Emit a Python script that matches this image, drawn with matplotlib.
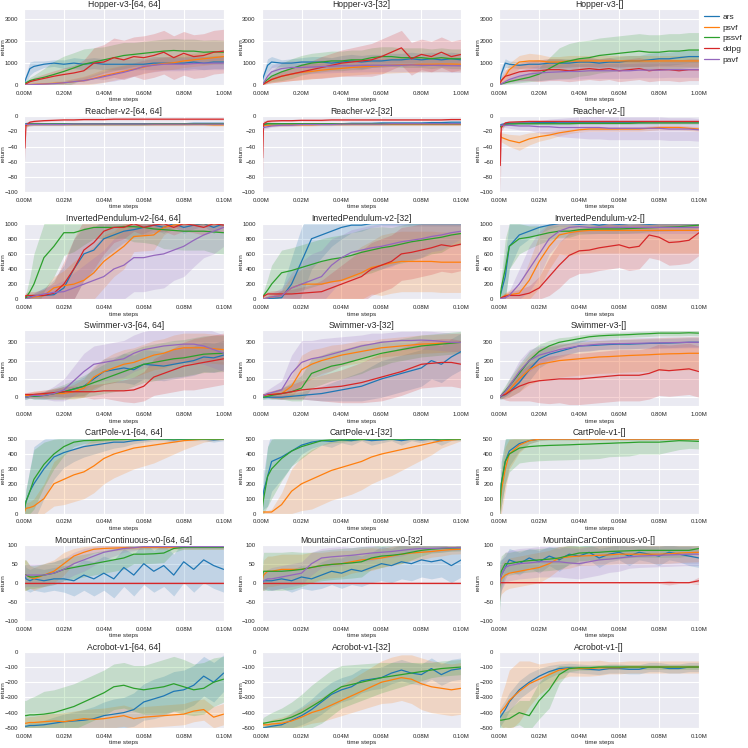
import numpy as np
import matplotlib
matplotlib.use("Agg")
import matplotlib.pyplot as plt
import seaborn as sns
from matplotlib.ticker import FuncFormatter

sns.set_style("darkgrid")
plt.rcParams['font.family'] = ['Liberation Sans', 'DejaVu Sans']

ALGOS = ["ars", "psvf", "pssvf", "ddpg", "pavf"]
COLORS = {"ars": "#1f77b4", "psvf": "#ff7f0e", "pssvf": "#2ca02c",
          "ddpg": "#d62728", "pavf": "#9467bd"}
ARCHS = ["[64, 64]", "[32]", "[]"]

# sample positions as a fraction of the training budget
FRAC = [0, 0.005, 0.01, 0.03, 0.05, 0.1, 0.15, 0.2, 0.25, 0.3, 0.35, 0.4,
        0.45, 0.5, 0.55, 0.6, 0.65, 0.7, 0.75, 0.8, 0.85, 0.9, 0.95, 1.0]

# ---------------- Hopper-v3 ----------------
hop64_ars = [50, 150, 300, 750, 850, 950, 1000, 950, 1000, 950, 1000, 950, 950, 950, 950, 950, 1000, 1000, 1000, 1000, 1050, 1000, 1050, 1050]
hop64_ars_sd = [50, 100, 200, 300, 250, 150, 150, 200, 250, 250, 250, 250, 250, 250, 250, 250, 300, 300, 300, 300, 300, 300, 300, 300]
hop64_psvf = [0, 0, 0, 20, 30, 50, 80, 100, 150, 200, 300, 420, 520, 620, 720, 820, 920, 980, 1020, 1100, 1150, 1200, 1250, 1300]
hop64_psvf_sd = [0, 5, 10, 20, 30, 60, 80, 100, 150, 200, 250, 300, 300, 300, 300, 300, 300, 300, 300, 300, 300, 300, 300, 300]
hop64_pssvf = [80, 90, 100, 200, 250, 350, 480, 620, 780, 950, 1050, 1150, 1250, 1350, 1400, 1450, 1500, 1550, 1580, 1550, 1550, 1500, 1520, 1500]
hop64_pssvf_sd = [50, 60, 80, 150, 200, 400, 600, 700, 700, 700, 650, 600, 600, 600, 550, 550, 550, 550, 550, 550, 550, 550, 550, 550]
hop64_ddpg = [0, 20, 50, 150, 200, 300, 400, 480, 550, 650, 1000, 1050, 1250, 1150, 1300, 1250, 1350, 1500, 1250, 1450, 1300, 1350, 1500, 1550]
hop64_ddpg_sd = [0, 20, 50, 100, 150, 200, 250, 300, 350, 500, 700, 800, 900, 900, 900, 1000, 1000, 1000, 1000, 1000, 1000, 1000, 1000, 1000]
hop64_pavf = [0, 0, 0, 10, 20, 40, 60, 100, 150, 200, 280, 380, 480, 580, 700, 850, 900, 950, 950, 950, 980, 1000, 1000, 1000]
hop64_pavf_sd = [0, 5, 5, 10, 20, 40, 60, 100, 120, 150, 200, 250, 300, 300, 300, 300, 300, 300, 300, 300, 300, 300, 300, 300]

hop32_ars = [100, 250, 400, 900, 1050, 1000, 1000, 1050, 1050, 1050, 1000, 1050, 1100, 1050, 1100, 1100, 1150, 1150, 1200, 1150, 1200, 1150, 1200, 1150]
hop32_ars_sd = [50, 100, 200, 300, 250, 150, 200, 200, 250, 250, 250, 300, 300, 300, 300, 300, 300, 300, 300, 300, 300, 300, 300, 300]
hop32_psvf = [0, 20, 50, 150, 250, 400, 500, 580, 620, 680, 720, 760, 800, 830, 860, 880, 900, 920, 930, 950, 950, 960, 960, 950]
hop32_psvf_sd = [0, 10, 30, 80, 150, 250, 300, 350, 350, 350, 350, 350, 350, 350, 350, 350, 350, 350, 350, 350, 350, 350, 350, 350]
hop32_pssvf = [0, 50, 100, 250, 400, 600, 750, 900, 1000, 1050, 1100, 1100, 1150, 1150, 1250, 1300, 1300, 1250, 1250, 1250, 1200, 1250, 1200, 1200]
hop32_pssvf_sd = [0, 40, 80, 150, 250, 400, 450, 450, 450, 450, 450, 450, 450, 450, 450, 450, 450, 450, 450, 450, 450, 450, 450, 450]
hop32_ddpg = [0, 20, 50, 150, 250, 400, 500, 600, 700, 800, 900, 1000, 1050, 1100, 1150, 1300, 1500, 1700, 1200, 1400, 1300, 1500, 1300, 1400]
hop32_ddpg_sd = [0, 10, 30, 80, 150, 250, 300, 350, 400, 500, 550, 600, 650, 700, 750, 800, 800, 800, 750, 700, 700, 700, 700, 700]
hop32_pavf = [0, 50, 100, 400, 600, 750, 800, 800, 820, 840, 860, 880, 880, 900, 900, 900, 900, 900, 920, 900, 900, 900, 880, 880]
hop32_pavf_sd = [0, 40, 80, 200, 300, 300, 300, 300, 300, 300, 300, 300, 300, 300, 300, 300, 300, 300, 300, 300, 300, 300, 300, 300]

hop0_ars = [0, 250, 500, 1000, 950, 900, 950, 950, 1000, 1000, 1000, 1050, 1050, 1000, 1050, 1050, 1100, 1100, 1150, 1200, 1200, 1250, 1300, 1300]
hop0_ars_sd = [0, 150, 300, 200, 150, 150, 150, 200, 200, 200, 200, 200, 200, 200, 200, 250, 250, 250, 300, 300, 300, 300, 300, 300]
hop0_psvf = [0, 100, 200, 400, 700, 1050, 1100, 1100, 1050, 1050, 1100, 1100, 1100, 1100, 1100, 1100, 1100, 1100, 1100, 1100, 1100, 1100, 1100, 1100]
hop0_psvf_sd = [0, 50, 100, 200, 300, 300, 350, 300, 250, 250, 250, 250, 250, 250, 250, 250, 250, 250, 250, 250, 250, 250, 250, 250]
hop0_pssvf = [0, 20, 50, 100, 150, 250, 350, 500, 750, 1000, 1100, 1200, 1250, 1350, 1400, 1450, 1500, 1550, 1500, 1500, 1550, 1550, 1600, 1600]
hop0_pssvf_sd = [0, 20, 30, 60, 100, 150, 200, 300, 500, 700, 800, 800, 800, 800, 800, 800, 800, 800, 800, 800, 800, 800, 800, 800]
hop0_ddpg = [0, 100, 200, 400, 450, 600, 650, 650, 700, 700, 650, 700, 750, 700, 750, 650, 700, 750, 650, 700, 700, 650, 700, 700]
hop0_ddpg_sd = [0, 80, 150, 300, 300, 400, 450, 500, 500, 500, 500, 500, 500, 500, 500, 500, 500, 500, 500, 500, 500, 500, 500, 500]
hop0_pavf = [0, 20, 50, 150, 250, 400, 500, 550, 580, 600, 620, 620, 650, 650, 650, 650, 650, 680, 680, 680, 700, 700, 700, 700]
hop0_pavf_sd = [0, 20, 50, 100, 150, 250, 300, 350, 350, 350, 350, 350, 350, 350, 350, 350, 350, 350, 350, 350, 350, 350, 350, 350]

# ---------------- Reacher-v2 ----------------
rea_flat_sd = [2, 2, 2, 2, 1.5, 1.5, 1.5, 1.5, 1.5, 1.5, 1.5, 1.5, 1.5, 1.5, 1.5, 1.5, 1.5, 1.5, 1.5, 1.5, 1.5, 1.5, 1.5, 1.5]
rea64_ars = [-11, -11, -10, -10, -10, -10, -10, -10, -10, -10, -10, -10, -10, -10, -10, -10, -10, -10, -10, -10, -9.5, -9.5, -9.5, -9.5]
rea64_psvf = [-12, -12, -12, -11, -11, -11, -11, -11, -11, -11, -11, -11, -11, -11, -11, -11, -11, -11, -11, -11, -11, -11, -11.5, -11.5]
rea64_pssvf = [-11, -11, -11, -10.5, -10.5, -10.5, -10.5, -10.5, -10.5, -10.5, -10.5, -10.5, -10.5, -10.5, -10.5, -10.5, -10, -10, -10, -10, -10, -10, -10, -10]
rea64_ddpg = [-10, -42, -12, -8, -7, -6, -5.5, -5, -5, -4.5, -4.5, -4.5, -4, -4, -4, -4, -4, -4, -4, -4, -4, -4, -4, -4]
rea64_ddpg_sd = [3, 17, 4, 2, 1.5, 1, 1, 1, 1, 1, 1, 1, 1, 1, 1, 1, 1, 1, 1, 1, 1, 1, 1, 1]
rea64_pavf = [-11, -11, -11, -11, -11, -11, -11, -11, -10.5, -10.5, -10.5, -10.5, -10.5, -10.5, -10.5, -10.5, -10.5, -10.5, -10.5, -10.5, -10.5, -10.5, -10.5, -10.5]

rea32_ars = [-12, -12, -11, -10, -10, -10, -10, -10, -10, -10, -10, -10, -9.5, -9.5, -9.5, -9, -9, -9, -9, -9, -8.5, -8.5, -8, -8]
rea32_psvf = [-13, -13, -12, -12, -12, -12, -11.5, -11.5, -11.5, -11, -11, -11, -11, -11, -11, -11, -11, -11, -11, -11, -11, -11, -11, -11]
rea32_pssvf = [-12, -12, -11, -10, -10, -10, -10, -10, -10, -10, -10, -10, -10, -10, -10, -10, -10, -10, -10, -10, -10, -10, -10, -10]
rea32_ddpg = [-10, -55, -10, -7, -6.5, -6, -6, -5.5, -5.5, -5.5, -5, -5, -5, -5, -5, -5, -5, -5, -5, -5, -5, -5, -4.5, -4.5]
rea32_ddpg_sd = [3, 27, 4, 2, 1.5, 1, 1, 1, 1, 1, 1, 1, 1, 1, 1, 1, 1, 1, 1, 1, 1, 1, 1, 1]
rea32_pavf = [-15, -15, -15, -14, -13, -12, -12, -11, -11, -11, -11, -10.5, -10.5, -10.5, -10.5, -10.5, -10, -10, -10, -10, -10, -10, -10, -10]

rea0_ars = [-12, -12, -11, -10, -9.5, -9, -9, -8.5, -8.5, -8, -8, -8, -8, -8, -8, -8, -8, -8, -7.5, -7.5, -7.5, -7.5, -7.5, -7.5]
rea0_psvf = [-20, -25, -28, -30, -32, -35, -30, -27, -25, -22, -20, -18, -17, -17, -17, -17, -17, -17, -16, -15, -15, -15, -16, -17]
rea0_psvf_sd = [5, 5, 6, 7, 8, 10, 8, 6, 5, 4, 3, 3, 3, 3, 3, 3, 3, 3, 3, 3, 3, 3, 3, 3]
rea0_pssvf = [-15, -14, -13, -11, -10.5, -10, -10, -10, -10, -10, -10, -9.5, -9.5, -9.5, -9.5, -9.5, -9.5, -9, -9, -9, -9, -9, -9, -9]
rea0_ddpg = [-10, -65, -15, -9, -8, -7.5, -7, -7, -7, -7, -7, -7, -7, -7, -7, -7, -7, -7, -7, -7, -7, -7, -7, -7]
rea0_ddpg_sd = [3, 35, 5, 2, 1.5, 1.5, 1.5, 1.5, 1.5, 1.5, 1.5, 1.5, 1.5, 1.5, 1.5, 1.5, 1.5, 1.5, 1.5, 1.5, 1.5, 1.5, 1.5, 1.5]
rea0_pavf = [-12, -12, -12, -12, -12, -13, -13, -14, -14, -15, -15, -15, -15, -15, -16, -16, -16, -16, -16, -16, -17, -17, -17, -18]
rea0_pavf_sd = [2, 2, 2, 3, 4, 5, 6, 8, 10, 12, 13, 14, 15, 15, 15, 15, 15, 15, 15, 15, 15, 15, 15, 15]

# ---------------- InvertedPendulum-v2 ----------------
inv64_ars = [0, 10, 20, 30, 40, 50, 60, 150, 400, 600, 650, 800, 850, 900, 920, 950, 980, 950, 1000, 950, 980, 1000, 950, 1000]
inv64_ars_sd = [0, 10, 20, 30, 40, 100, 200, 300, 400, 350, 300, 250, 200, 150, 100, 80, 50, 80, 30, 80, 50, 30, 80, 30]
inv64_psvf = [0, 5, 10, 20, 30, 50, 150, 180, 200, 250, 350, 500, 600, 700, 830, 840, 850, 950, 980, 1000, 1000, 1000, 1000, 1000]
inv64_psvf_sd = [0, 5, 10, 20, 30, 80, 150, 200, 300, 350, 350, 350, 300, 300, 200, 200, 200, 100, 50, 30, 30, 30, 30, 30]
inv64_pssvf = [0, 5, 20, 100, 200, 550, 700, 880, 880, 920, 950, 950, 950, 960, 960, 950, 930, 920, 910, 900, 900, 900, 890, 880]
inv64_pssvf_sd = [0, 20, 50, 200, 400, 450, 400, 300, 250, 200, 150, 150, 150, 150, 200, 200, 200, 250, 250, 250, 250, 250, 280, 280]
inv64_ddpg = [0, 30, 50, 50, 50, 50, 80, 200, 400, 650, 750, 900, 950, 950, 1000, 950, 980, 1000, 950, 1000, 980, 950, 1000, 980]
inv64_ddpg_sd = [0, 30, 40, 50, 50, 80, 150, 300, 400, 400, 350, 300, 200, 150, 100, 100, 100, 100, 100, 100, 100, 100, 100, 100]
inv64_pavf = [0, 0, 5, 20, 40, 70, 90, 100, 150, 200, 250, 300, 400, 450, 550, 550, 580, 600, 650, 700, 780, 850, 900, 950]
inv64_pavf_sd = [0, 5, 10, 20, 40, 80, 100, 150, 200, 250, 300, 350, 400, 450, 450, 450, 450, 450, 400, 400, 350, 300, 300, 250]

inv32_ars = [0, 0, 5, 10, 10, 20, 200, 500, 800, 850, 900, 950, 980, 980, 1000, 1000, 1000, 1000, 1000, 1000, 1000, 1000, 1000, 1000]
inv32_ars_sd = [0, 5, 10, 20, 30, 100, 350, 450, 400, 300, 200, 150, 100, 80, 50, 30, 30, 30, 30, 30, 30, 30, 30, 30]
inv32_psvf = [0, 0, 5, 20, 30, 50, 150, 200, 200, 200, 230, 250, 300, 350, 420, 450, 480, 500, 500, 500, 500, 490, 490, 490]
inv32_psvf_sd = [0, 5, 10, 20, 30, 60, 150, 200, 250, 300, 300, 300, 300, 350, 350, 400, 400, 400, 400, 400, 400, 400, 400, 400]
inv32_pssvf = [0, 20, 50, 120, 200, 350, 380, 420, 460, 500, 530, 550, 580, 620, 650, 680, 700, 730, 760, 780, 800, 820, 850, 870]
inv32_pssvf_sd = [0, 30, 60, 150, 250, 300, 300, 300, 300, 300, 300, 300, 300, 300, 300, 280, 250, 250, 250, 230, 200, 200, 150, 150]
inv32_ddpg = [0, 20, 40, 70, 70, 70, 70, 80, 90, 100, 150, 200, 250, 300, 400, 450, 500, 600, 620, 650, 680, 720, 700, 730]
inv32_ddpg_sd = [0, 10, 20, 30, 40, 50, 60, 80, 100, 150, 200, 250, 300, 350, 350, 350, 350, 350, 350, 350, 350, 350, 350, 350]
inv32_pavf = [0, 0, 5, 20, 30, 50, 150, 200, 250, 300, 450, 550, 620, 650, 680, 700, 730, 760, 780, 800, 830, 850, 880, 900]
inv32_pavf_sd = [0, 5, 10, 30, 50, 100, 200, 300, 350, 350, 350, 300, 300, 300, 300, 300, 300, 250, 250, 250, 200, 200, 150, 100]

inv0_ars = [0, 50, 100, 300, 700, 850, 900, 950, 980, 1000, 1000, 990, 1000, 980, 1000, 990, 1000, 1000, 990, 1000, 1000, 1000, 1000, 1000]
inv0_ars_sd = [0, 50, 100, 300, 300, 150, 100, 80, 50, 30, 30, 30, 30, 30, 30, 30, 30, 30, 30, 30, 30, 30, 30, 30]
inv0_psvf = [0, 5, 20, 50, 60, 80, 250, 500, 700, 850, 880, 900, 910, 910, 910, 910, 910, 910, 910, 910, 910, 910, 910, 910]
inv0_psvf_sd = [0, 5, 20, 40, 60, 100, 250, 350, 300, 250, 300, 300, 300, 300, 300, 300, 300, 300, 300, 300, 300, 300, 300, 300]
inv0_pssvf = [0, 50, 150, 400, 700, 800, 820, 850, 880, 900, 900, 920, 925, 930, 930, 930, 935, 940, 945, 950, 955, 960, 970, 980]
inv0_pssvf_sd = [0, 50, 150, 400, 300, 200, 150, 120, 100, 80, 80, 60, 60, 60, 60, 60, 60, 60, 50, 50, 50, 50, 50, 40]
inv0_ddpg = [0, 5, 20, 40, 50, 50, 80, 150, 300, 450, 580, 640, 650, 680, 700, 720, 680, 700, 850, 820, 750, 760, 780, 880]
inv0_ddpg_sd = [0, 5, 20, 40, 50, 80, 100, 150, 250, 300, 300, 300, 300, 300, 300, 300, 300, 300, 300, 300, 300, 300, 300, 300]
inv0_pavf = [0, 5, 10, 20, 50, 200, 400, 600, 800, 900, 950, 960, 950, 950, 950, 950, 950, 950, 950, 950, 950, 950, 950, 950]
inv0_pavf_sd = [0, 5, 10, 30, 60, 200, 300, 300, 200, 150, 100, 80, 80, 80, 80, 80, 80, 80, 80, 80, 80, 80, 80, 80]

# ---------------- Swimmer-v3 ----------------
swi64_ars = [0, 0, 0, 5, 5, 10, 20, 30, 45, 60, 100, 140, 150, 160, 150, 180, 175, 170, 180, 190, 200, 220, 215, 230]
swi64_ars_sd = [10, 10, 10, 10, 15, 20, 20, 30, 40, 50, 60, 70, 70, 80, 80, 80, 80, 80, 80, 80, 80, 80, 80, 80]
swi64_psvf = [10, 10, 10, 10, 15, 15, 20, 20, 30, 50, 110, 140, 160, 180, 190, 210, 230, 240, 260, 270, 270, 270, 265, 260]
swi64_psvf_sd = [10, 10, 10, 15, 20, 20, 30, 30, 40, 50, 60, 70, 80, 80, 80, 80, 80, 80, 80, 80, 80, 80, 80, 80]
swi64_pssvf = [0, 0, 0, 5, 5, 10, 20, 30, 45, 60, 80, 100, 120, 140, 160, 180, 190, 200, 210, 215, 225, 235, 238, 240]
swi64_pssvf_sd = [10, 10, 10, 10, 15, 20, 30, 40, 50, 60, 70, 80, 90, 100, 100, 100, 100, 100, 100, 100, 100, 100, 100, 100]
swi64_ddpg = [15, 15, 15, 15, 15, 20, 25, 30, 30, 30, 30, 35, 35, 35, 40, 60, 110, 130, 150, 170, 180, 190, 200, 210]
swi64_ddpg_sd = [10, 10, 10, 15, 15, 20, 20, 30, 30, 30, 40, 40, 50, 60, 70, 80, 100, 110, 120, 130, 140, 140, 140, 140]
swi64_pavf = [0, 0, 0, 5, 10, 10, 20, 40, 90, 140, 180, 190, 200, 210, 240, 260, 270, 280, 285, 290, 290, 280, 260, 240]
swi64_pavf_sd = [10, 10, 10, 10, 15, 20, 40, 60, 80, 100, 100, 100, 100, 100, 100, 100, 100, 100, 100, 100, 100, 100, 100, 100]

swi32_ars = [0, 0, 0, 0, 0, 0, 5, 10, 15, 20, 30, 40, 50, 60, 80, 100, 115, 130, 145, 160, 200, 180, 220, 250]
swi32_ars_sd = [10, 10, 10, 10, 10, 10, 15, 20, 30, 40, 50, 60, 70, 80, 90, 100, 100, 100, 100, 100, 100, 100, 100, 100]
swi32_psvf = [10, 10, 10, 15, 15, 20, 60, 150, 180, 200, 215, 230, 240, 250, 260, 270, 275, 280, 285, 290, 292, 295, 298, 300]
swi32_psvf_sd = [10, 10, 10, 15, 20, 30, 60, 80, 80, 70, 70, 60, 60, 60, 50, 50, 50, 50, 50, 50, 50, 50, 50, 50]
swi32_pssvf = [0, 0, 0, 5, 10, 20, 30, 50, 130, 150, 170, 180, 195, 210, 225, 240, 250, 260, 270, 280, 285, 290, 295, 300]
swi32_pssvf_sd = [10, 10, 10, 10, 20, 30, 50, 70, 80, 80, 80, 80, 80, 80, 70, 70, 60, 60, 60, 60, 60, 60, 60, 60]
swi32_ddpg = [10, 10, 10, 15, 15, 20, 30, 40, 45, 50, 55, 60, 70, 80, 95, 110, 125, 140, 160, 180, 185, 190, 190, 180]
swi32_ddpg_sd = [10, 10, 10, 15, 20, 30, 40, 50, 60, 70, 80, 90, 100, 110, 120, 130, 130, 130, 130, 130, 130, 130, 130, 130]
swi32_pavf = [10, 10, 10, 20, 25, 40, 130, 190, 210, 220, 235, 250, 265, 280, 290, 300, 305, 310, 310, 312, 310, 305, 300, 300]
swi32_pavf_sd = [10, 10, 15, 20, 30, 50, 100, 120, 100, 100, 90, 80, 70, 60, 60, 50, 50, 50, 50, 50, 50, 50, 50, 50]

swi0_ars = [0, 0, 5, 15, 30, 80, 150, 210, 235, 250, 265, 280, 282, 285, 288, 290, 290, 292, 294, 295, 296, 298, 300, 300]
swi0_ars_sd = [10, 10, 15, 20, 30, 50, 60, 50, 40, 35, 30, 30, 30, 25, 25, 25, 25, 25, 25, 25, 25, 25, 25, 25]
swi0_psvf = [0, 5, 10, 20, 40, 100, 150, 180, 190, 200, 205, 210, 215, 220, 222, 225, 228, 230, 232, 235, 237, 238, 240, 240]
swi0_psvf_sd = [10, 10, 15, 25, 40, 70, 80, 90, 90, 90, 90, 90, 90, 90, 90, 90, 90, 90, 90, 90, 90, 90, 90, 90]
swi0_pssvf = [0, 5, 10, 35, 60, 130, 200, 250, 280, 300, 310, 320, 330, 335, 338, 340, 342, 345, 347, 350, 350, 350, 352, 350]
swi0_pssvf_sd = [10, 10, 20, 30, 40, 50, 50, 40, 30, 25, 20, 20, 15, 15, 15, 15, 15, 15, 15, 15, 15, 15, 15, 15]
swi0_ddpg = [0, 5, 10, 15, 30, 60, 80, 90, 95, 100, 100, 100, 105, 110, 115, 120, 120, 120, 130, 150, 145, 150, 155, 140]
swi0_ddpg_sd = [10, 10, 15, 30, 50, 80, 100, 120, 130, 130, 140, 140, 140, 140, 140, 140, 140, 140, 140, 140, 140, 140, 140, 140]
swi0_pavf = [0, 5, 10, 30, 60, 140, 200, 230, 245, 260, 270, 280, 285, 290, 292, 293, 294, 295, 296, 297, 298, 299, 300, 300]
swi0_pavf_sd = [10, 10, 15, 25, 40, 60, 60, 50, 40, 35, 30, 30, 30, 30, 30, 30, 30, 30, 30, 30, 30, 30, 30, 30]

# ---------------- CartPole-v1 ----------------
car64_ars = [0, 40, 80, 150, 200, 300, 380, 410, 430, 450, 460, 470, 480, 480, 490, 495, 500, 500, 495, 500, 500, 500, 495, 500]
car64_ars_sd = [0, 40, 80, 150, 250, 200, 150, 100, 80, 70, 60, 50, 40, 30, 20, 15, 10, 10, 15, 10, 10, 10, 15, 10]
car64_psvf = [0, 20, 35, 40, 50, 100, 200, 230, 260, 280, 320, 370, 400, 420, 440, 450, 460, 470, 480, 490, 495, 500, 500, 500]
car64_psvf_sd = [0, 20, 35, 40, 50, 100, 150, 170, 180, 180, 180, 170, 160, 150, 140, 130, 120, 100, 80, 60, 40, 20, 10, 5]
car64_pssvf = [0, 50, 80, 150, 230, 330, 400, 450, 480, 490, 492, 495, 497, 498, 500, 500, 500, 500, 500, 500, 500, 500, 500, 500]
car64_pssvf_sd = [0, 50, 80, 150, 200, 150, 100, 60, 30, 20, 15, 10, 5, 5, 2, 2, 2, 2, 2, 2, 2, 2, 2, 2]

car32_ars = [0, 100, 150, 250, 350, 380, 420, 460, 480, 490, 485, 495, 490, 500, 490, 495, 500, 490, 500, 495, 500, 490, 500, 500]
car32_ars_sd = [0, 80, 120, 200, 200, 150, 100, 60, 40, 30, 40, 20, 30, 10, 30, 20, 10, 30, 10, 20, 10, 30, 10, 10]
car32_psvf = [0, 10, 10, 10, 10, 60, 150, 200, 230, 260, 290, 310, 330, 350, 380, 400, 415, 430, 445, 460, 475, 490, 495, 500]
car32_psvf_sd = [0, 10, 10, 10, 20, 80, 150, 180, 200, 200, 200, 200, 200, 190, 180, 170, 160, 140, 120, 100, 80, 50, 30, 10]
car32_pssvf = [0, 50, 100, 250, 300, 370, 420, 450, 470, 490, 495, 495, 497, 498, 500, 500, 500, 500, 500, 500, 500, 500, 500, 500]
car32_pssvf_sd = [0, 50, 100, 200, 200, 150, 100, 80, 50, 30, 20, 15, 10, 5, 5, 5, 5, 5, 5, 5, 5, 5, 5, 5]

car0_ars = [0, 100, 200, 350, 420, 470, 490, 500, 500, 500, 500, 500, 500, 500, 500, 500, 500, 500, 500, 500, 500, 500, 500, 500]
car0_ars_sd = [0, 100, 150, 150, 100, 50, 20, 10, 5, 5, 5, 5, 5, 5, 5, 5, 5, 5, 5, 5, 5, 5, 5, 5]
car0_psvf = [0, 80, 150, 300, 400, 460, 490, 500, 500, 500, 500, 500, 500, 500, 500, 500, 500, 500, 500, 500, 500, 500, 500, 500]
car0_psvf_sd = [0, 80, 150, 150, 100, 50, 20, 10, 5, 5, 5, 5, 5, 5, 5, 5, 5, 5, 5, 5, 5, 5, 5, 5]
car0_pssvf = [0, 100, 200, 350, 400, 440, 450, 455, 458, 460, 462, 465, 467, 470, 472, 475, 477, 480, 480, 480, 485, 490, 488, 485]
car0_pssvf_sd = [0, 100, 150, 150, 120, 100, 100, 100, 100, 100, 100, 100, 100, 100, 90, 90, 90, 80, 80, 80, 70, 60, 50, 50]

# ---------------- MountainCarContinuous-v0 ----------------
mc_ddpg_zero = [0, 0, 0, 0, 0, 0, 0, 0, 0, 0, 0, 0, 0, 0, 0, 0, 0, 0, 0, 0, 0, 0, 0, 0]
mc_ddpg_zero_sd = [2, 2, 2, 2, 2, 2, 2, 2, 2, 2, 2, 2, 2, 2, 2, 2, 2, 2, 2, 2, 2, 2, 2, 2]
mc64_ars = [10, 20, 10, 5, 10, 5, 10, 10, 5, 20, 10, 25, 10, 40, 20, 50, 30, 45, 20, 55, 35, 60, 45, 35]
mc64_ars_sd = [30, 30, 30, 30, 30, 30, 30, 35, 40, 40, 45, 45, 50, 50, 55, 55, 55, 55, 55, 55, 60, 60, 60, 60]
mc64_psvf = [20, 20, 20, 15, 10, 20, 30, 50, 70, 80, 88, 90, 91, 92, 92, 93, 93, 93, 93, 93, 93, 93, 93, 93]
mc64_psvf_sd = [40, 40, 40, 30, 30, 30, 30, 30, 20, 15, 10, 8, 7, 6, 5, 5, 5, 5, 5, 5, 5, 5, 5, 5]
mc64_pssvf = [20, 20, 20, 15, 15, 20, 25, 35, 40, 45, 50, 55, 60, 65, 75, 75, 76, 78, 90, 93, 93, 93, 93, 93]
mc64_pssvf_sd = [40, 40, 40, 30, 30, 30, 30, 30, 30, 30, 30, 30, 30, 30, 25, 25, 25, 25, 10, 5, 5, 5, 5, 5]
mc64_pavf = [10, 15, 20, 20, 20, 20, 25, 35, 50, 60, 70, 80, 85, 90, 92, 95, 95, 95, 95, 95, 95, 95, 95, 95]
mc64_pavf_sd = [30, 30, 30, 30, 30, 30, 30, 30, 30, 30, 25, 20, 15, 10, 8, 5, 5, 5, 5, 5, 5, 5, 5, 5]

mc32_ars = [0, 0, 5, 5, 5, 10, 5, 15, 10, 20, 30, 25, 35, 30, 40, 50, 45, 55, 50, 60, 55, 60, 45, 60]
mc32_ars_sd = [20, 20, 20, 25, 25, 25, 30, 30, 30, 35, 35, 40, 40, 40, 40, 45, 45, 45, 45, 45, 45, 45, 45, 45]
mc32_psvf = [0, 10, 20, 30, 30, 35, 35, 35, 40, 45, 48, 50, 55, 60, 62, 65, 70, 75, 78, 80, 82, 85, 87, 88]
mc32_psvf_sd = [20, 30, 40, 40, 40, 40, 40, 40, 40, 35, 35, 35, 30, 30, 30, 25, 25, 25, 20, 20, 15, 15, 12, 12]
mc32_pssvf = [-5, 20, 30, 30, 30, 30, 32, 35, 40, 45, 48, 50, 52, 55, 65, 70, 72, 75, 80, 85, 88, 90, 91, 92]
mc32_pssvf_sd = [20, 40, 50, 50, 50, 50, 50, 45, 40, 40, 40, 40, 40, 40, 30, 30, 25, 25, 20, 15, 10, 10, 8, 8]
mc32_pavf = [0, 5, 5, 10, 10, 15, 20, 25, 50, 65, 68, 70, 72, 75, 78, 80, 82, 85, 88, 90, 90, 91, 92, 92]
mc32_pavf_sd = [20, 20, 25, 25, 30, 30, 30, 30, 30, 25, 25, 25, 20, 20, 20, 15, 15, 15, 10, 10, 10, 10, 8, 8]

mc0_ars = [-10, 10, 20, 40, 60, 50, 65, 55, 70, 60, 75, 70, 80, 65, 75, 80, 70, 80, 75, 70, 80, 75, 70, 65]
mc0_ars_sd = [60, 50, 40, 30, 30, 30, 25, 30, 25, 30, 25, 25, 20, 25, 20, 20, 25, 20, 20, 25, 20, 20, 25, 25]
mc0_psvf = [-10, 0, 10, 20, 25, 30, 35, 40, 50, 65, 68, 70, 71, 72, 73, 75, 75, 75, 75, 75, 76, 78, 79, 80]
mc0_psvf_sd = [40, 40, 40, 40, 40, 40, 40, 40, 35, 30, 30, 25, 25, 25, 25, 25, 25, 25, 25, 25, 25, 25, 25, 25]
mc0_pssvf = [-20, 10, 30, 50, 50, 55, 58, 60, 62, 65, 72, 78, 79, 80, 82, 83, 84, 85, 85, 85, 85, 85, 85, 90]
mc0_pssvf_sd = [70, 50, 40, 30, 30, 30, 30, 30, 30, 30, 25, 20, 20, 20, 20, 20, 18, 18, 18, 18, 18, 18, 15, 10]
mc0_ddpg = [0, 0, 0, 0, 0, 0, 0, 0, 0, 0, 0, 0, 0, 0, 0, 0, 0, 0, 0, 0, 0, 0, 0, 5]
mc0_ddpg_sd = [2, 2, 2, 2, 2, 2, 2, 2, 2, 2, 2, 2, 2, 2, 2, 2, 2, 2, 2, 2, 6, 2, 2, 10]
mc0_pavf = [-10, 10, 20, 40, 45, 50, 52, 55, 55, 55, 52, 50, 55, 60, 62, 65, 68, 70, 71, 72, 73, 74, 75, 75]
mc0_pavf_sd = [40, 40, 40, 40, 40, 40, 40, 40, 40, 40, 40, 40, 40, 40, 35, 35, 30, 30, 30, 30, 30, 30, 30, 30]

# ---------------- Acrobot-v1 ----------------
acr64_ars = [-490, -490, -490, -485, -485, -480, -470, -460, -455, -450, -440, -420, -410, -400, -380, -330, -310, -290, -260, -250, -220, -160, -200, -140]
acr64_ars_sd = [10, 10, 10, 20, 20, 30, 40, 50, 60, 70, 80, 90, 100, 100, 110, 120, 130, 130, 130, 130, 130, 130, 130, 120]
acr64_psvf = [-470, -470, -470, -465, -465, -460, -455, -460, -450, -440, -445, -440, -430, -420, -440, -430, -425, -420, -415, -410, -390, -380, -430, -410]
acr64_psvf_sd = [40, 40, 40, 40, 40, 50, 50, 60, 60, 60, 70, 70, 70, 70, 70, 70, 70, 70, 70, 70, 70, 70, 70, 70]
acr64_pssvf = [-420, -420, -420, -415, -415, -410, -400, -380, -360, -330, -300, -270, -230, -220, -240, -250, -240, -230, -210, -230, -250, -240, -200, -180]
acr64_pssvf_sd = [100, 100, 100, 110, 120, 150, 150, 150, 150, 150, 150, 150, 150, 150, 150, 160, 170, 180, 180, 180, 170, 170, 160, 150]

acr32_ars = [-500, -500, -500, -495, -490, -480, -450, -420, -380, -330, -280, -250, -230, -190, -180, -170, -140, -120, -140, -150, -110, -150, -120, -110]
acr32_ars_sd = [10, 10, 10, 20, 20, 30, 50, 60, 70, 80, 80, 80, 80, 80, 70, 70, 70, 70, 70, 70, 70, 70, 70, 70]
acr32_psvf = [-480, -480, -480, -480, -475, -470, -455, -430, -400, -380, -350, -320, -290, -260, -230, -200, -185, -170, -180, -210, -230, -240, -250, -240]
acr32_psvf_sd = [20, 20, 20, 20, 30, 40, 50, 60, 70, 80, 90, 100, 110, 120, 130, 140, 150, 150, 160, 170, 170, 170, 170, 170]
acr32_pssvf = [-470, -470, -470, -465, -460, -450, -430, -400, -360, -320, -270, -230, -215, -200, -185, -170, -160, -150, -140, -130, -120, -110, -105, -100]
acr32_pssvf_sd = [30, 30, 40, 50, 60, 80, 100, 120, 140, 150, 150, 140, 130, 120, 110, 100, 90, 80, 70, 60, 50, 50, 50, 50]

acr0_ars = [-440, -430, -420, -380, -330, -250, -200, -160, -130, -110, -105, -110, -115, -120, -110, -110, -115, -115, -100, -100, -110, -110, -100, -100]
acr0_ars_sd = [60, 60, 60, 60, 60, 60, 60, 50, 40, 30, 30, 30, 30, 30, 30, 30, 30, 30, 30, 30, 30, 30, 30, 30]
acr0_psvf = [-410, -400, -390, -360, -320, -260, -210, -180, -150, -120, -110, -110, -110, -105, -105, -105, -100, -100, -100, -100, -100, -100, -100, -100]
acr0_psvf_sd = [60, 80, 100, 150, 200, 200, 150, 100, 80, 60, 50, 50, 50, 50, 40, 40, 40, 40, 40, 40, 40, 40, 40, 40]
acr0_pssvf = [-450, -450, -450, -445, -440, -400, -420, -320, -250, -150, -110, -105, -105, -100, -100, -100, -100, -100, -100, -100, -100, -100, -100, -100]
acr0_pssvf_sd = [50, 50, 50, 50, 60, 80, 100, 120, 120, 60, 20, 15, 15, 15, 15, 15, 15, 15, 15, 15, 15, 15, 15, 15]

# env name, training budget, y range, runs for each architecture
ROWS = [
    ("Hopper-v3", 1e6, (0, 3480), [
        {"ars": (hop64_ars, hop64_ars_sd), "psvf": (hop64_psvf, hop64_psvf_sd), "pssvf": (hop64_pssvf, hop64_pssvf_sd),
         "ddpg": (hop64_ddpg, hop64_ddpg_sd), "pavf": (hop64_pavf, hop64_pavf_sd)},
        {"ars": (hop32_ars, hop32_ars_sd), "psvf": (hop32_psvf, hop32_psvf_sd), "pssvf": (hop32_pssvf, hop32_pssvf_sd),
         "ddpg": (hop32_ddpg, hop32_ddpg_sd), "pavf": (hop32_pavf, hop32_pavf_sd)},
        {"ars": (hop0_ars, hop0_ars_sd), "psvf": (hop0_psvf, hop0_psvf_sd), "pssvf": (hop0_pssvf, hop0_pssvf_sd),
         "ddpg": (hop0_ddpg, hop0_ddpg_sd), "pavf": (hop0_pavf, hop0_pavf_sd)},
    ]),
    ("Reacher-v2", 1e5, (-100, 0), [
        {"ars": (rea64_ars, rea_flat_sd), "psvf": (rea64_psvf, rea_flat_sd), "pssvf": (rea64_pssvf, rea_flat_sd),
         "ddpg": (rea64_ddpg, rea64_ddpg_sd), "pavf": (rea64_pavf, rea_flat_sd)},
        {"ars": (rea32_ars, rea_flat_sd), "psvf": (rea32_psvf, rea_flat_sd), "pssvf": (rea32_pssvf, rea_flat_sd),
         "ddpg": (rea32_ddpg, rea32_ddpg_sd), "pavf": (rea32_pavf, rea_flat_sd)},
        {"ars": (rea0_ars, rea_flat_sd), "psvf": (rea0_psvf, rea0_psvf_sd), "pssvf": (rea0_pssvf, rea_flat_sd),
         "ddpg": (rea0_ddpg, rea0_ddpg_sd), "pavf": (rea0_pavf, rea0_pavf_sd)},
    ]),
    ("InvertedPendulum-v2", 1e5, (0, 1005), [
        {"ars": (inv64_ars, inv64_ars_sd), "psvf": (inv64_psvf, inv64_psvf_sd), "pssvf": (inv64_pssvf, inv64_pssvf_sd),
         "ddpg": (inv64_ddpg, inv64_ddpg_sd), "pavf": (inv64_pavf, inv64_pavf_sd)},
        {"ars": (inv32_ars, inv32_ars_sd), "psvf": (inv32_psvf, inv32_psvf_sd), "pssvf": (inv32_pssvf, inv32_pssvf_sd),
         "ddpg": (inv32_ddpg, inv32_ddpg_sd), "pavf": (inv32_pavf, inv32_pavf_sd)},
        {"ars": (inv0_ars, inv0_ars_sd), "psvf": (inv0_psvf, inv0_psvf_sd), "pssvf": (inv0_pssvf, inv0_pssvf_sd),
         "ddpg": (inv0_ddpg, inv0_ddpg_sd), "pavf": (inv0_pavf, inv0_pavf_sd)},
    ]),
    ("Swimmer-v3", 1e6, (-50, 365), [
        {"ars": (swi64_ars, swi64_ars_sd), "psvf": (swi64_psvf, swi64_psvf_sd), "pssvf": (swi64_pssvf, swi64_pssvf_sd),
         "ddpg": (swi64_ddpg, swi64_ddpg_sd), "pavf": (swi64_pavf, swi64_pavf_sd)},
        {"ars": (swi32_ars, swi32_ars_sd), "psvf": (swi32_psvf, swi32_psvf_sd), "pssvf": (swi32_pssvf, swi32_pssvf_sd),
         "ddpg": (swi32_ddpg, swi32_ddpg_sd), "pavf": (swi32_pavf, swi32_pavf_sd)},
        {"ars": (swi0_ars, swi0_ars_sd), "psvf": (swi0_psvf, swi0_psvf_sd), "pssvf": (swi0_pssvf, swi0_pssvf_sd),
         "ddpg": (swi0_ddpg, swi0_ddpg_sd), "pavf": (swi0_pavf, swi0_pavf_sd)},
    ]),
    ("CartPole-v1", 1e5, (0, 511), [
        {"ars": (car64_ars, car64_ars_sd), "psvf": (car64_psvf, car64_psvf_sd), "pssvf": (car64_pssvf, car64_pssvf_sd)},
        {"ars": (car32_ars, car32_ars_sd), "psvf": (car32_psvf, car32_psvf_sd), "pssvf": (car32_pssvf, car32_pssvf_sd)},
        {"ars": (car0_ars, car0_ars_sd), "psvf": (car0_psvf, car0_psvf_sd), "pssvf": (car0_pssvf, car0_pssvf_sd)},
    ]),
    ("MountainCarContinuous-v0", 1e5, (-100, 100), [
        {"ars": (mc64_ars, mc64_ars_sd), "psvf": (mc64_psvf, mc64_psvf_sd), "pssvf": (mc64_pssvf, mc64_pssvf_sd),
         "ddpg": (mc_ddpg_zero, mc_ddpg_zero_sd), "pavf": (mc64_pavf, mc64_pavf_sd)},
        {"ars": (mc32_ars, mc32_ars_sd), "psvf": (mc32_psvf, mc32_psvf_sd), "pssvf": (mc32_pssvf, mc32_pssvf_sd),
         "ddpg": (mc_ddpg_zero, mc_ddpg_zero_sd), "pavf": (mc32_pavf, mc32_pavf_sd)},
        {"ars": (mc0_ars, mc0_ars_sd), "psvf": (mc0_psvf, mc0_psvf_sd), "pssvf": (mc0_pssvf, mc0_pssvf_sd),
         "ddpg": (mc0_ddpg, mc0_ddpg_sd), "pavf": (mc0_pavf, mc0_pavf_sd)},
    ]),
    ("Acrobot-v1", 1e5, (-500, 0), [
        {"ars": (acr64_ars, acr64_ars_sd), "psvf": (acr64_psvf, acr64_psvf_sd), "pssvf": (acr64_pssvf, acr64_pssvf_sd)},
        {"ars": (acr32_ars, acr32_ars_sd), "psvf": (acr32_psvf, acr32_psvf_sd), "pssvf": (acr32_pssvf, acr32_pssvf_sd)},
        {"ars": (acr0_ars, acr0_ars_sd), "psvf": (acr0_psvf, acr0_psvf_sd), "pssvf": (acr0_pssvf, acr0_pssvf_sd)},
    ]),
]

mfmt = FuncFormatter(lambda v, p: f"{v / 1e6:.2f}M")

fig, axes = plt.subplots(7, 3, figsize=(7.48, 7.48), dpi=100)
fig.subplots_adjust(left=0.032, right=0.9345, top=0.988, bottom=0.027, wspace=0.19, hspace=0.41)

for r, (env, steps, ylim, cols) in enumerate(ROWS):
    x = np.array(FRAC) * steps
    for c, runs in enumerate(cols):
        ax = axes[r, c]
        for algo in ALGOS:
            if algo not in runs:
                continue
            mean = np.array(runs[algo][0], dtype=float)
            sd = np.array(runs[algo][1], dtype=float)
            ax.plot(x, mean, color=COLORS[algo], lw=0.9, label=algo)
            ax.fill_between(x, mean - sd, mean + sd, color=COLORS[algo], alpha=0.2, lw=0)
        ax.set_title(f"{env}-{ARCHS[c]}", fontsize=6.2, pad=1.5)
        ax.set_xlim(0, steps)
        ax.set_ylim(*ylim)
        ax.set_xticks(np.linspace(0, steps, 6))
        ax.xaxis.set_major_formatter(mfmt)
        ax.tick_params(labelsize=4.3, pad=0.8)
        ax.set_xlabel("time steps", fontsize=4.6, labelpad=1)
        ax.set_ylabel("return", fontsize=4.6)
        ax.yaxis.set_label_coords(-0.092, 0.5)

handles, labels = axes[0, 2].get_legend_handles_labels()
fig.legend(handles, labels, loc="upper left", bbox_to_anchor=(0.937, 0.987),
           frameon=False, fontsize=6, handlelength=1.8, handletextpad=0.4,
           labelspacing=0.35, borderaxespad=0)

fig.savefig("out.png", dpi=100)
